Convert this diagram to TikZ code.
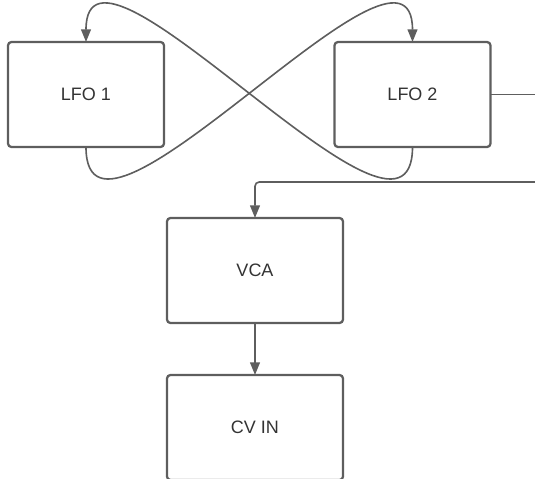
\documentclass[tikz,border=0pt]{standalone}
\usepackage{fontspec}
\setmainfont{Liberation Sans}
\usetikzlibrary{arrows.meta}

\definecolor{linegray}{HTML}{5E5E5E}
\definecolor{textgray}{HTML}{333333}

\begin{document}
\begin{tikzpicture}[x=0.025cm, y=-0.025cm,
    module/.style={draw=linegray, line width=1.6pt, rounded corners=2.5pt,
      minimum width=3.9cm, minimum height=2.625cm, inner sep=0pt, outer sep=0pt,
      text=textgray, font=\fontsize{12.8pt}{15pt}\selectfont},
    wide/.style={module, minimum width=4.4cm},
    wire/.style={draw=linegray, line width=1.15pt},
    tip/.style={-{Triangle[length=9pt,width=7pt]}}]
    \useasboundingbox (0,0) rectangle (535,479);

    \node[module] (LFO1) at (86,94.5) {LFO 1};
    \node[module] (LFO2) at (412.5,94.5) {LFO 2};
    \node[wide] (VCA) at (255,270.5) {VCA};
    \node[wide] (CVIN) at (255,427.5) {CV IN};

    \coordinate (outR) at (535,94.5);
    \coordinate (inR) at (535,182);

    \draw[wire, tip] (LFO1.south) .. controls +(0,143) and +(0,-142) .. (LFO2.north);
    \draw[wire, tip] (LFO2.south) .. controls +(0,143) and +(0,-142) .. (LFO1.north);

    \draw[wire] (LFO2.east) -- (outR);
    \draw[wire, tip, rounded corners=3pt] (inR) -| (VCA.north);
    \draw[wire, tip] (VCA) -- (CVIN);
  \end{tikzpicture}
\end{document}
